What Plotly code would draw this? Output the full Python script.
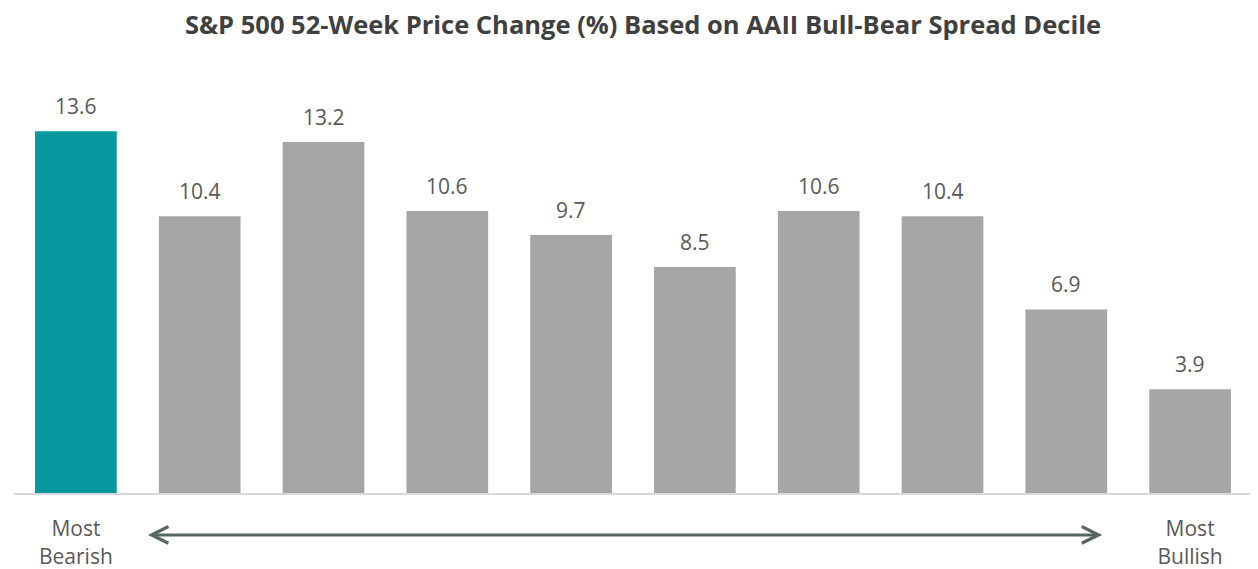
import plotly.graph_objects as go

deciles = ["1", "2", "3", "4", "5", "6", "7", "8", "9", "10"]
values = [13.6, 10.4, 13.2, 10.6, 9.7, 8.5, 10.6, 10.4, 6.9, 3.9]
tick_labels = ["Most<br>Bearish", "", "", "", "", "", "", "", "", "Most<br>Bullish"]
title_text = "S&P 500 52-Week Price Change (%) Based on AAII Bull-Bear Spread Decile"

TEAL = "#05989f"
GRAY = "#a6a6a6"
TEXT = "#595959"
colors = [TEAL] + [GRAY] * (len(values) - 1)

fig = go.Figure()
fig.add_trace(go.Bar(
    x=list(range(len(deciles))),
    y=values,
    marker=dict(color=colors, line=dict(width=0)),
    hoverinfo="skip",
))

for i, v in enumerate(values):
    fig.add_annotation(
        x=i, y=v, xref="x", yref="y",
        text=f"{v:.1f}", showarrow=False,
        yanchor="bottom", yshift=9,
        font=dict(family="Open Sans", size=21, color=TEXT),
    )

# double-headed arrow between the extremes
fig.add_annotation(
    x=8.29, y=-0.105, xref="x", yref="paper",
    ax=0.57, ay=0, axref="x", ayref="pixel",
    text="", showarrow=True,
    arrowhead=5, startarrowhead=5, arrowside="end+start",
    arrowwidth=3, arrowsize=1.1, startarrowsize=1.1,
    arrowcolor="#56665f",
)

fig.update_layout(
    width=1250, height=561,
    margin=dict(l=6, r=6, t=86, b=76, autoexpand=False),
    paper_bgcolor="white", plot_bgcolor="white",
    bargap=0.34,
    showlegend=False,
    title=dict(
        text=f"<b>{title_text}</b>",
        x=0.508, xanchor="center", y=0.97, yanchor="middle",
        font=dict(family="Open Sans", size=25.5, color="#404040"),
    ),
    xaxis=dict(
        range=[-0.5, len(values) - 0.5],
        tickmode="array",
        tickvals=list(range(len(deciles))),
        ticktext=tick_labels,
        ticks="",
        automargin=False,
        showgrid=False, zeroline=False,
        showline=True, linecolor="#d9d9d9", linewidth=2,
        tickfont=dict(family="Open Sans", size=21, color=TEXT),
        ticklabelstandoff=16,
    ),
    yaxis=dict(
        range=[0, 15],
        visible=False,
        automargin=False,
        showgrid=False, zeroline=False,
    ),
)

fig.write_html("out.html")
